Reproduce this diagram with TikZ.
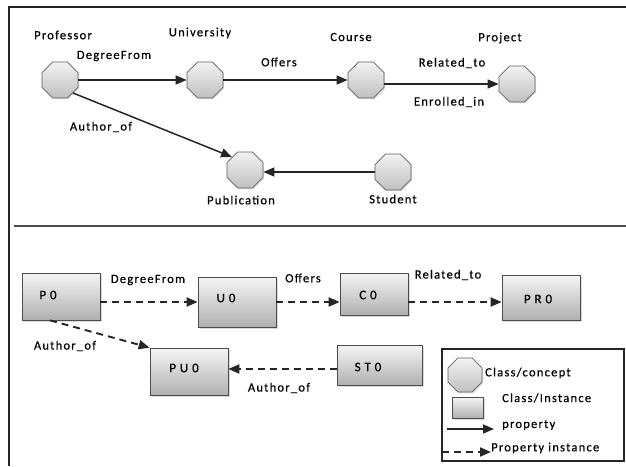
\documentclass[tikz,border=0pt]{standalone}
\usepackage{fontspec}
\setmainfont{Carlito}
\newfontfamily\lblfont[LetterSpace=10,FakeBold=0.5]{Carlito}
\newfontfamily\boxfont[LetterSpace=30,FakeBold=0.6]{Carlito}
\usetikzlibrary{shapes.geometric,arrows.meta,shadows,calc}
\tikzset{
  concept/.style={regular polygon, regular polygon sides=8, minimum size=39pt, inner sep=0pt,
    draw=gray!75!black, line width=0.7pt, top color=gray!10, bottom color=gray!50,
    drop shadow={shadow xshift=1.2pt, shadow yshift=-1.2pt, opacity=0.25}},
  inst/.style={rectangle, minimum width=78pt, minimum height=47pt, inner sep=0pt,
    draw=gray!60!black, line width=0.7pt, top color=gray!8, bottom color=gray!62,
    drop shadow={shadow xshift=1.5pt, shadow yshift=-1.5pt, opacity=0.3}},
  lbl/.style={font=\lblfont\fontsize{12.5}{14}\selectfont, inner sep=0pt, text=black},
  blbl/.style={font=\boxfont\fontsize{13}{15}\selectfont, inner sep=0pt, text=black},
  prop/.style={-{Triangle[length=11pt,width=9pt]}, line width=1.5pt, black!85},
  pinst/.style={-{Triangle[length=11pt,width=9pt]}, line width=1.9pt, black!85, dash pattern=on 7pt off 5pt},
  frame/.style={line width=1.6pt, black!85}
}
\begin{document}
\begin{tikzpicture}[x=1pt,y=-1pt]
\useasboundingbox (0,0) rectangle (626,466);
% frame
\coordinate (ftl) at (9,7);
\coordinate (ftr) at (626,7);
\coordinate (fbl) at (9,466);
\coordinate (sl) at (14,226);
\coordinate (sr) at (626,226);
\draw[frame] (ftr) -- (ftl) -- (fbl);
\draw[frame, black!70, line width=2pt] (sl) -- (sr);

% top panel
\node[concept] (prof) at (60,80) {};
\node[concept] (univ) at (205,80) {};
\node[concept] (course) at (366,80) {};
\node[concept] (proj) at (517,84) {};
\node[concept] (pub) at (245,170) {};
\node[concept] (stud) at (393,172) {};

\node[lbl] (lprof) at (63,35) {Professor};
\node[lbl] (luniv) at (200,33) {University};
\node[lbl] (lcourse) at (351,37) {Course};
\node[lbl] (lproj) at (500,38) {Project};
\node[lbl] (lpub) at (241,200) {Publication};
\node[lbl] (lstud) at (393,199) {Student};

\draw[prop] (prof.east) -- (univ.west);
\node[lbl] (ldeg) at (114,56) {DegreeFrom};
\draw[prop] (univ.east) -- (course.west);
\node[lbl] (loff) at (279,62) {Offers};
\draw[prop] (course.east |- proj.west) -- (proj.west);
\node[lbl] (lrel) at (452,63) {Related\_to};
\node[lbl] (lenr) at (449,102) {Enrolled\_in};
\draw[prop] (prof.south east) -- (pub.north west);
\node[lbl] (lauth1) at (101,127) {Author\_of};
\draw[prop] (stud.west) -- (pub.east |- stud.west);

% bottom panel
\node[inst] (p0) at (61,296.5) {};
\node[blbl] at (48,295) {P0};
\node[inst, minimum height=50pt] (u0) at (237,302) {};
\node[blbl] at (226,298) {U0};
\node[inst, minimum width=68pt, minimum height=42pt] (c0) at (374,294) {};
\node[blbl] at (368,295) {C0};
\node[inst, minimum height=45pt] (pr0) at (541,297.5) {};
\node[blbl] at (538,299) {PR0};
\node[inst] (pu0) at (189,371.5) {};
\node[blbl] at (184,368) {PU0};
\node[inst, minimum width=85pt, minimum height=40pt] (st0) at (379.5,365) {};
\node[blbl] at (368,367) {ST0};

\draw[pinst] (p0.east |- 0,302) -- (u0.west |- 0,302);
\node[lbl] (ldeg2) at (148,280) {DegreeFrom};
\draw[pinst] (u0.east |- 0,302) -- (c0.west |- 0,302);
\node[lbl] (loff2) at (303,278) {Offers};
\draw[pinst] (c0.east |- 0,302) -- (pr0.west |- 0,302);
\node[lbl] (lrel2) at (448,275) {Related\_to};
\draw[pinst] ($(p0.south)+(-11,0)$) -- (pu0.north west);
\node[lbl] (lauth2) at (65,346) {Author\_of};
\draw[pinst] (st0.west |- 0,369) -- (pu0.east |- 0,369);
\node[lbl] (lauth3) at (279,388) {Author\_of};

% legend
\node[draw=black!85, line width=1.2pt, minimum width=182pt, minimum height=112pt, inner sep=0pt] (leg) at (533,405) {};
\node[concept, minimum size=37pt] (legoct) at (465,375) {};
\node[lbl, anchor=west] at (485,373) {Class/concept};
\node[inst, minimum width=31pt, minimum height=21pt] (legrect) at (467.5,407.5) {};
\node[lbl, anchor=west] at (502,398) {Class/Instance};
\coordinate (lp1) at (447,429);
\coordinate (lp2) at (494,429);
\draw[prop] (lp1) -- (lp2);
\node[lbl, anchor=west] at (502,425) {property};
\coordinate (lq1) at (442,452);
\coordinate (lq2) at (491,452);
\draw[pinst] (lq1) -- (lq2);
\node[lbl, anchor=west] at (491,448) {Property instance};
\end{tikzpicture}
\end{document}
